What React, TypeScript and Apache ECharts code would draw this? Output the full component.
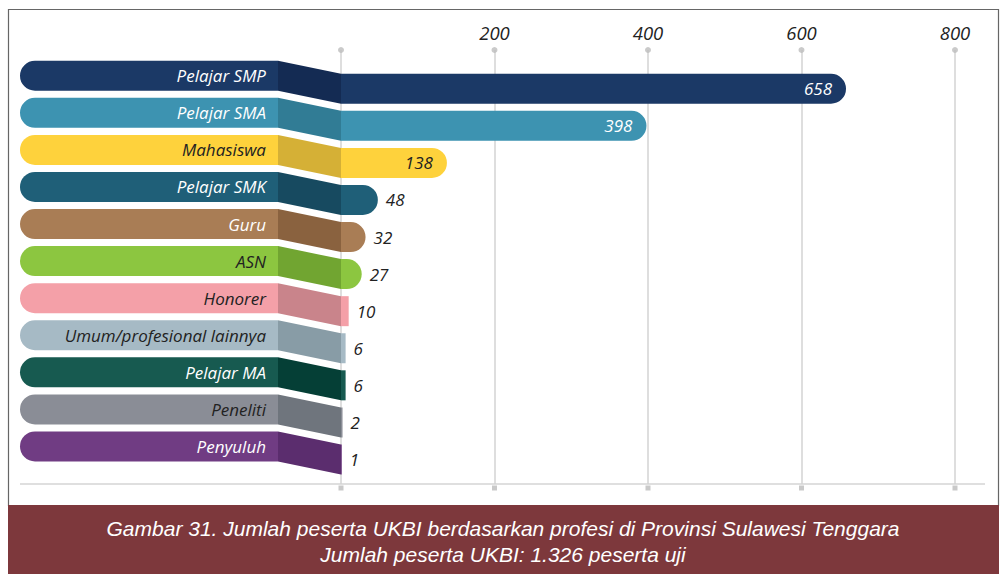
import React, { useEffect, useRef } from "react";
import * as echarts from "echarts";

const categories = [
  "Pelajar SMP",
  "Pelajar SMA",
  "Mahasiswa",
  "Pelajar SMK",
  "Guru",
  "ASN",
  "Honorer",
  "Umum/profesional lainnya",
  "Pelajar MA",
  "Peneliti",
  "Penyuluh",
];
const values = [658, 398, 138, 48, 32, 27, 10, 6, 6, 2, 1];
const barColors = ["#1b3966", "#3d93b1", "#fed23c", "#1f5f78", "#a97d55", "#8cc640", "#f4a0a8", "#a6bac5", "#175a50", "#8a8d96", "#703c83"];
const foldColors = ["#142b53", "#317c95", "#d5b036", "#174a60", "#8a623f", "#71a531", "#c9848b", "#889ca6", "#053f36", "#6f757d", "#5b2d6e"];
const nameColors = ["#ffffff", "#ffffff", "#222222", "#ffffff", "#ffffff", "#222222", "#222222", "#222222", "#ffffff", "#222222", "#ffffff"];
const valueInside = [true, true, true, false, false, false, false, false, false, false, false];
const valueColors = ["#ffffff", "#ffffff", "#222222", "#222222", "#222222", "#222222", "#222222", "#222222", "#222222", "#222222", "#222222"];
const tickValues = [0, 200, 400, 600, 800];
const captionLines = [
  "Gambar 31. Jumlah peserta UKBI berdasarkan profesi di Provinsi Sulawesi Tenggara",
  "Jumlah peserta UKBI: 1.326 peserta uji",
];

const FONT = "'Open Sans', Lato, sans-serif";
const CAPTION_FONT = "'Liberation Sans', Arial, sans-serif";

export default function App() {
  const ref = useRef<HTMLDivElement>(null);
  useEffect(() => {
    if (!ref.current) return;
    const chart = echarts.init(ref.current, null, { renderer: "svg" });
    const barH = 30;
    const off = 13;
    const option: any = {
      animation: false,
      backgroundColor: "#ffffff",
      textStyle: { fontFamily: FONT },
      grid: [
        { left: 341, right: 45, top: 70.2, height: 407.8 },
        { left: 341, right: 45, top: 50, height: 434 },
      ],
      xAxis: [
        { gridIndex: 0, type: "value", min: 0, max: 800, show: false },
        {
          gridIndex: 1,
          type: "value",
          min: 0,
          max: 800,
          interval: 200,
          position: "top",
          axisLine: { show: false },
          axisTick: { show: false },
          axisLabel: {
            margin: 8,
            fontSize: 18.5,
            fontStyle: "italic",
            fontFamily: FONT,
            color: "#222222",
            formatter: (v: number) => (v === 0 ? "" : String(v)),
          },
          splitLine: { show: true, lineStyle: { color: "#d3d3d3", width: 1.5 } },
        },
      ],
      yAxis: [
        { gridIndex: 0, type: "category", data: categories, inverse: true, show: false },
        { gridIndex: 1, type: "value", min: 0, max: 1, show: false },
      ],
      graphic: [
        {
          type: "rect",
          shape: { x: 8.5, y: 9.5, width: 990, height: 496 },
          style: { fill: "none", stroke: "#666666", lineWidth: 1.2 },
          z: -10,
        },
        {
          type: "line",
          shape: { x1: 20, y1: 484, x2: 985, y2: 484 },
          style: { stroke: "#d5d5d5", lineWidth: 1.5 },
        },
        {
          type: "rect",
          shape: { x: 8, y: 505, width: 991, height: 69 },
          style: { fill: "#7d383c" },
        },
        ...captionLines.map((t, i) => ({
          type: "text",
          x: 503,
          y: 528.5 + i * 25.5,
          style: {
            text: t,
            fill: "#ffffff",
            fontSize: 21,
            fontStyle: "italic",
            fontFamily: CAPTION_FONT,
            align: "center",
            verticalAlign: "middle",
          },
        })),
      ],
      series: [
        {
          type: "custom",
          xAxisIndex: 0,
          yAxisIndex: 0,
          data: categories.map((_, i) => [0, i]),
          renderItem: (params: any, api: any) => {
            const idx = api.value(1);
            const p = api.coord([0, idx]);
            const x0 = p[0];
            const yc = p[1];
            const pillLeft = 20;
            const pillRight = x0 - 63;
            const pTop = yc - off - barH / 2;
            return {
              type: "group",
              children: [
                {
                  type: "rect",
                  shape: { x: pillLeft, y: pTop, width: pillRight - pillLeft, height: barH, r: [15, 0, 0, 15] },
                  style: { fill: barColors[idx] },
                },
                {
                  type: "polygon",
                  shape: {
                    points: [
                      [pillRight, pTop],
                      [x0, pTop + off],
                      [x0, pTop + off + barH],
                      [pillRight, pTop + barH],
                    ],
                  },
                  style: { fill: foldColors[idx] },
                },
                {
                  type: "text",
                  style: {
                    text: categories[idx],
                    x: pillRight - 12,
                    y: pTop + barH / 2,
                    align: "right",
                    verticalAlign: "middle",
                    fontSize: 17,
                    fontStyle: "italic",
                    fontFamily: FONT,
                    fill: nameColors[idx],
                  },
                },
              ],
            };
          },
          z: 1,
        },
        {
          type: "bar",
          xAxisIndex: 0,
          yAxisIndex: 0,
          barWidth: barH,
          data: values.map((v, i) => ({
            value: v,
            itemStyle: { color: barColors[i], borderRadius: v >= 20 ? [0, 15, 15, 0] : 0 },
            label: {
              show: true,
              position: valueInside[i] ? "insideRight" : "right",
              distance: valueInside[i] ? 14 : 8,
              color: valueColors[i],
              fontSize: 17,
              fontStyle: "italic",
              fontFamily: FONT,
            },
          })),
          z: 2,
        },
        {
          type: "scatter",
          xAxisIndex: 1,
          yAxisIndex: 1,
          symbol: "circle",
          symbolSize: 6,
          itemStyle: { color: "#bdbdbd" },
          data: tickValues.map((v) => [v, 1]),
          z: 3,
        },
        {
          type: "scatter",
          xAxisIndex: 1,
          yAxisIndex: 1,
          symbol: "rect",
          symbolSize: 5,
          symbolOffset: [0, 4],
          itemStyle: { color: "#bbbbbb" },
          data: tickValues.map((v) => [v, 0]),
          z: 3,
        },
      ],
    };
    chart.setOption(option);
    return () => chart.dispose();
  }, []);
  return (
    <div
      ref={ref}
      style={{ position: "fixed", left: 0, top: 0, width: 1000, height: 574 }}
    />
  );
}
